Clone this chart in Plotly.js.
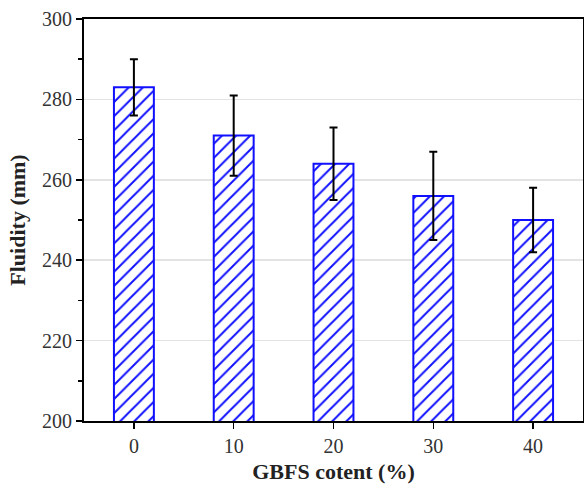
<!DOCTYPE html>
<html>
<head>
<meta charset="utf-8">
<script src="https://cdn.plot.ly/plotly-3.0.1.min.js"></script>
<style>html,body{margin:0;padding:0;background:#fff;}#chart{width:584px;height:484px;}</style>
</head>
<body>
<div id="chart"></div>
<script>
const categories = ['0', '10', '20', '30', '40'];
const fluidity = [283, 271, 264, 256, 250];
const errors = [7, 10, 9, 11, 8];
const yTicks = [200, 220, 240, 260, 280, 300];

const trace = {
  type: 'bar',
  x: categories,
  y: fluidity,
  width: 0.4,
  marker: {
    color: 'rgba(0,0,0,0)',
    line: {color: '#1010ff', width: 2},
    pattern: {shape: '/', fgcolor: '#1010ff', bgcolor: 'white', size: 10, solidity: 0.2}
  },
  error_y: {type: 'data', array: errors, visible: true, color: '#000', thickness: 2, width: 4}
};

const fam = '"Liberation Serif", "Times New Roman", serif';

const layout = {
  width: 584, height: 484,
  margin: {l: 84, r: 1, t: 19, b: 63},
  paper_bgcolor: '#fff', plot_bgcolor: '#fff',
  showlegend: false,
  font: {family: fam, color: '#333', size: 20},
  xaxis: {
    type: 'category',
    range: [-0.5, 4.5],
    showline: true, linecolor: '#000', linewidth: 2, mirror: true,
    ticks: 'outside', ticklen: 6, tickwidth: 1.5, tickcolor: '#000',
    showgrid: false, zeroline: false,
    tickfont: {family: fam, size: 20, color: '#333'},
    title: {text: '<b>GBFS cotent (%)</b>', font: {family: fam, size: 22, color: '#222'}, standoff: 8}
  },
  yaxis: {
    range: [200, 300],
    tickvals: yTicks,
    showline: true, linecolor: '#000', linewidth: 2, mirror: true,
    ticks: 'outside', ticklen: 6, tickwidth: 1.5, tickcolor: '#000',
    showgrid: true, gridcolor: '#e3e3e3', gridwidth: 1.5,
    zeroline: false,
    minor: {dtick: 10, ticks: 'outside', ticklen: 4, tickwidth: 1.5, tickcolor: '#000', showgrid: false},
    tickfont: {family: fam, size: 20, color: '#333'},
    title: {text: '<b>Fluidity (mm)</b>', font: {family: fam, size: 22, color: '#222'}, standoff: 10}
  }
};

Plotly.newPlot('chart', [trace], layout, {displayModeBar: false, staticPlot: true});
</script>
</body>
</html>
